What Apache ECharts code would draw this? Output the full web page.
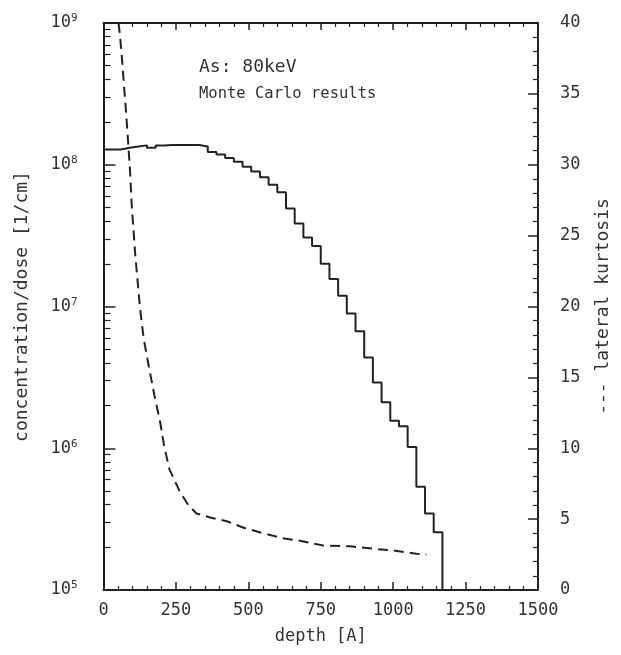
<!DOCTYPE html>
<html>
<head>
<meta charset="utf-8">
<script src="https://cdn.jsdelivr.net/npm/echarts@6/dist/echarts.min.js"></script>
<style>
html,body{margin:0;padding:0;background:#fff;}
#chart{width:621px;height:655px;}
</style>
</head>
<body>
<div id="chart"></div>
<script>
// depth bins (start of each 30 A bin) and the end of the last bin
const binStart = [0,30,60,90,120,150,180,210,240,270,300,330,360,390,420,450,480,510,540,570,600,630,660,690,720,750,780,810,840,870,900,930,960,990,1020,1050,1080,1110,1140];
const binEnd = 1170;
// concentration/dose [1/cm] per bin
const concentration = [1.28e8,1.28e8,1.32e8,1.345e8,1.37e8,1.32e8,1.365e8,1.38e8,1.38e8,1.38e8,1.38e8,1.345e8,1.228e8,1.18e8,1.117e8,1.05e8,9.7e7,8.96e7,8.15e7,7.24e7,6.4e7,4.92e7,3.85e7,3.07e7,2.67e7,2.0e7,1.56e7,1.19e7,8.93e6,6.7e6,4.36e6,2.91e6,2.11e6,1.56e6,1.43e6,1.02e6,5.34e5,3.47e5,2.55e5];
// lateral kurtosis curve
const kurtDepth = [52,57,63,70,78,85,92,97,109,126,139,158,176,196,209,227,264,293,321,368,426,484,542,612,682,761,852,948,1007,1080,1115];
const kurtosis = [40,39.1,37.7,35.8,33.7,31.6,29.45,27.3,23.8,19.9,17.7,15.6,13.7,11.8,10.2,8.55,6.92,5.99,5.4,5.11,4.85,4.39,4.06,3.68,3.46,3.13,3.08,2.88,2.77,2.56,2.5];
// axis ticks
const xTicks = [0,250,500,750,1000,1250,1500];
const logMin = 1e5, logMax = 1e9;
const logMinorTicks = [2e5,3e5,4e5,5e5,6e5,7e5,8e5,9e5,2e6,3e6,4e6,5e6,6e6,7e6,8e6,9e6,2e7,3e7,4e7,5e7,6e7,7e7,8e7,9e7,2e8,3e8,4e8,5e8,6e8,7e8,8e8,9e8];
const kurtMin = 0, kurtMax = 40, kurtStep = 5;

const FONT = 'DejaVu Sans Mono';
const INK = '#222';
const TXT = '#333';

const stepData = binStart.map((d,i)=>[d, concentration[i]]);
stepData.push([binEnd, concentration[concentration.length-1]]);
stepData.push([binEnd, logMin]);
const kurtData = kurtDepth.map((d,i)=>[d, kurtosis[i]]);

const chart = echarts.init(document.getElementById('chart'));
function xAxisDef(pos){
  return {
    type:'value', min:xTicks[0], max:xTicks[xTicks.length-1], interval:xTicks[1]-xTicks[0], position:pos,
    axisLine:{show:true, lineStyle:{color:INK, width:2}},
    axisTick:{show:true, inside:true, length:(pos==='bottom'?8:7), lineStyle:{color:INK, width:1.5}},
    minorTick:{show:true, splitNumber:5, length:4, lineStyle:{color:INK, width:1.2}},
    splitLine:{show:false},
    axisLabel:{show:pos==='bottom', margin:12, fontFamily:FONT, fontSize:17, color:TXT, formatter:function(v){return String(v);}},
    name:(pos==='bottom'?'depth [A]':''), nameLocation:'middle', nameGap:38,
    nameTextStyle:{fontFamily:FONT, fontSize:17, color:TXT}
  };
}
chart.setOption({
  animation:false,
  grid:{left:103.5, top:23, width:434.5, height:567},
  xAxis:[xAxisDef('bottom'), xAxisDef('top')],
  yAxis:[
    {type:'log', logBase:10, min:logMin, max:logMax, position:'left',
     axisLine:{show:true, lineStyle:{color:INK, width:2}},
     axisTick:{show:true, inside:true, length:12, lineStyle:{color:INK, width:1.5}},
     splitLine:{show:false},
     axisLabel:{margin:26, formatter:function(v){return '{b|10}{s|'+Math.round(Math.log10(v))+'}';},
       rich:{b:{fontFamily:FONT, fontSize:17, color:TXT, lineHeight:20},
             s:{fontFamily:FONT, fontSize:11, color:TXT, verticalAlign:'top', lineHeight:12}}},
     name:'concentration/dose [1/cm]', nameLocation:'middle', nameRotate:90, nameGap:72,
     nameTextStyle:{fontFamily:FONT, fontSize:18, color:TXT}},
    {type:'log', logBase:10, min:logMin, max:logMax, position:'left',
     axisLine:{show:false}, axisLabel:{show:false}, splitLine:{show:false},
     axisTick:{show:true, inside:true, length:7, customValues:logMinorTicks, lineStyle:{color:INK, width:1.2}}},
    {type:'value', min:kurtMin, max:kurtMax, interval:kurtStep, position:'right',
     axisLine:{show:true, lineStyle:{color:INK, width:2}},
     axisTick:{show:true, inside:true, length:10, lineStyle:{color:INK, width:1.5}},
     minorTick:{show:true, splitNumber:5, length:5, lineStyle:{color:INK, width:1.2}},
     splitLine:{show:false},
     axisLabel:{margin:22, fontFamily:FONT, fontSize:17, color:TXT, formatter:function(v){return String(v);}},
     name:'--- lateral kurtosis', nameLocation:'middle', nameRotate:90, nameGap:56,
     nameTextStyle:{fontFamily:FONT, fontSize:18, color:TXT}}
  ],
  series:[
    {type:'line', xAxisIndex:0, yAxisIndex:0, step:'end', data:stepData, symbol:'none',
     lineStyle:{color:INK, width:2}},
    {type:'line', xAxisIndex:0, yAxisIndex:2, data:kurtData, symbol:'none',
     lineStyle:{color:INK, width:2, type:[10,6]}}
  ],
  graphic:[
    {type:'text', left:199, top:58, style:{text:'As: 80keV', font:'18px "DejaVu Sans Mono"', fill:TXT}},
    {type:'text', left:199, top:86, style:{text:'Monte Carlo results', font:'15.5px "DejaVu Sans Mono"', fill:TXT}}
  ]
});
</script>
</body>
</html>
